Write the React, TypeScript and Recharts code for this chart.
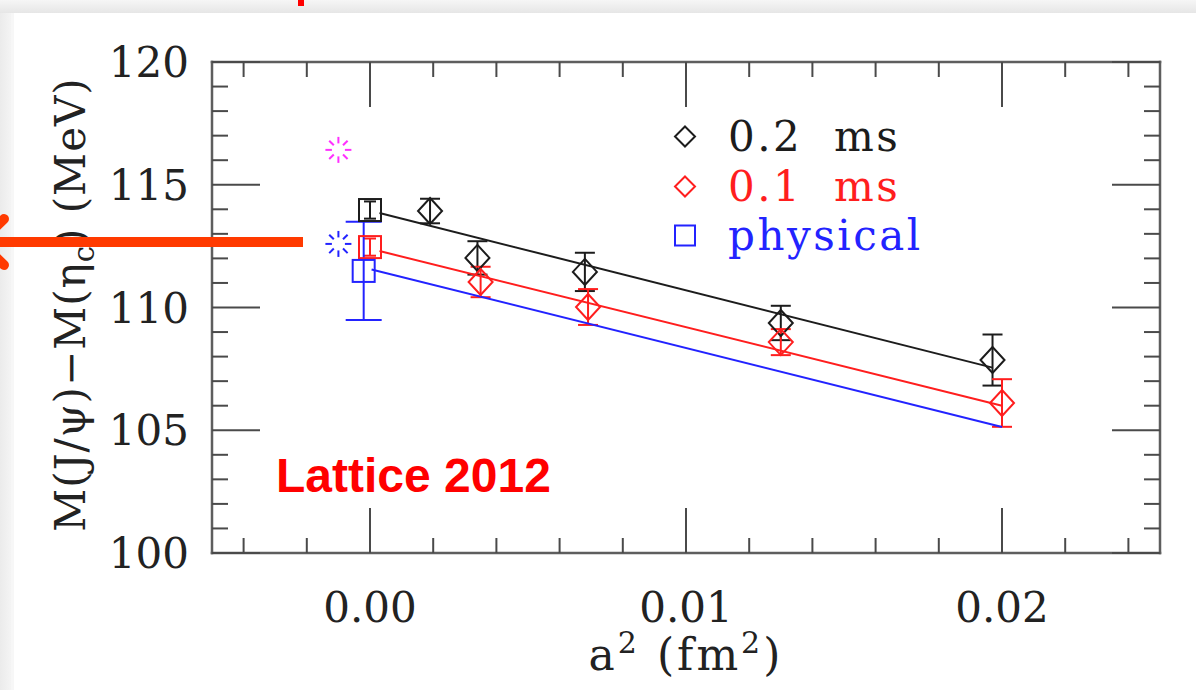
import React from 'react';
import { ComposedChart, Scatter, XAxis, YAxis, ErrorBar, Legend } from 'recharts';

// ---- axis ticks ----
const X_TICKS = [-0.004, -0.002, 0, 0.002, 0.004, 0.006, 0.008, 0.01, 0.012, 0.014, 0.016, 0.018, 0.02, 0.022, 0.024];
const X_MAJOR = [0, 0.01, 0.02];
const Y_TICKS = [100, 101, 102, 103, 104, 105, 106, 107, 108, 109, 110, 111, 112, 113, 114, 115, 116, 117, 118, 119, 120];
const Y_MAJOR = [100, 105, 110, 115, 120];

// ---- 0.2 ms ensembles ----
const MS02_A2 = [0.0019, 0.0034, 0.0068, 0.0130, 0.0197];
const MS02_M = [113.93, 112.02, 111.45, 109.37, 107.86];
const MS02_ERR = [0.5, 0.68, 0.78, 0.7, 1.04];

// ---- 0.1 ms ensembles ----
const MS01_A2 = [0.0035, 0.0069, 0.0130, 0.0200];
const MS01_M = [111.04, 110.02, 108.59, 106.11];
const MS01_ERR = [0.62, 0.73, 0.53, 0.97];

// ---- continuum values at a^2 = 0 (0.2 ms, 0.1 ms, physical) ----
const EXTRAP_A2 = [0, 0, -0.0002];
const EXTRAP_M = [113.97, 112.46, 111.49];
const EXTRAP_ERR = [0.35, 0.35, 2.0];

// ---- fit lines (end points) ----
const FIT02_A2 = [0.0003, 0.0197];
const FIT02_M = [113.85, 107.55];
const FIT01_A2 = [0.0003, 0.02];
const FIT01_M = [112.3, 106.0];
const FITPHYS_A2 = [0.00005, 0.02];
const FITPHYS_M = [111.55, 105.13];

// ---- other determinations (burst markers) ----
const OTHER_A2 = [-0.001, -0.001];
const OTHER_M = [116.42, 112.59];

// ---- legend ----
const LEGEND_LABELS = ['0.2  ms', '0.1  ms', 'physical'];

const SERIF = '"DejaVu Serif", serif';
const SANS = '"Liberation Sans", Arial, sans-serif';
const AXIS_COLOR = '#5e5e5e';
const TICK_COLOR = '#4a4a4a';
const BLACK = '#1c1c1c';
const RED = '#ff1e1e';
const BLUE = '#2323ff';
const MAGENTA = '#ff30ff';
const LEGEND_COLORS = [BLACK, RED, BLUE];
const ARROW = '#ff3a00';

type Pt = { x: number; y: number; err: number };
const zip = (xs: number[], ys: number[], es?: number[]): Pt[] =>
  xs.map((x, i) => ({ x, y: ys[i], err: es ? es[i] : 0 }));

const ms02 = zip(MS02_A2, MS02_M, MS02_ERR);
const ms01 = zip(MS01_A2, MS01_M, MS01_ERR);
const extrap = zip(EXTRAP_A2, EXTRAP_M, EXTRAP_ERR);
const fit02 = zip(FIT02_A2, FIT02_M);
const fit01 = zip(FIT01_A2, FIT01_M);
const fitPhys = zip(FITPHYS_A2, FITPHYS_M);
const others = zip(OTHER_A2, OTHER_M);

const isMajor = (v: number, majors: number[]) => majors.some((m) => Math.abs(m - v) < 1e-9);

// ---- marker shapes ----
const diamond = (color: string, hw = 12, hh = 13) => (p: any) => (
  <path
    d={`M${p.cx},${p.cy - hh}L${p.cx + hw},${p.cy}L${p.cx},${p.cy + hh}L${p.cx - hw},${p.cy}Z`}
    fill="none"
    stroke={color}
    strokeWidth={2}
  />
);
const square = (color: string, h = 11) => (p: any) => (
  <rect x={p.cx - h} y={p.cy - h} width={2 * h} height={2 * h} fill="none" stroke={color} strokeWidth={2} />
);
const burst = (color: string) => (p: any) => {
  const segs = [];
  for (let k = 0; k < 8; k++) {
    const a = (k * Math.PI) / 4;
    segs.push(
      <line
        key={k}
        x1={p.cx + 6.5 * Math.cos(a)}
        y1={p.cy + 6.5 * Math.sin(a)}
        x2={p.cx + 13 * Math.cos(a)}
        y2={p.cy + 13 * Math.sin(a)}
        stroke={color}
        strokeWidth={2}
      />
    );
  }
  return <g>{segs}</g>;
};
const noShape = () => <g />;

// ---- inward ticks on all four sides ----
const BottomTick = (p: any) => {
  const v = p.payload.value;
  const major = isMajor(v, X_MAJOR);
  return (
    <g>
      <line x1={p.x} y1={p.y} x2={p.x} y2={p.y - (major ? 45 : 15)} stroke={TICK_COLOR} strokeWidth={2} />
      {major && (
        <text x={p.x} y={p.y + 69} textAnchor="middle" fontFamily={SERIF} fontSize={42} fill="#222">
          {v.toFixed(2)}
        </text>
      )}
    </g>
  );
};
const TopTick = (p: any) => {
  const major = isMajor(p.payload.value, X_MAJOR);
  return <line x1={p.x} y1={p.y} x2={p.x} y2={p.y + (major ? 45 : 15)} stroke={TICK_COLOR} strokeWidth={2} />;
};
const LeftTick = (p: any) => {
  const v = p.payload.value;
  const major = isMajor(v, Y_MAJOR);
  return (
    <g>
      <line x1={p.x} y1={p.y} x2={p.x + (major ? 48 : 16)} y2={p.y} stroke={TICK_COLOR} strokeWidth={2} />
      {major && (
        <text x={p.x - 23} y={p.y + 15} textAnchor="end" fontFamily={SERIF} fontSize={42} fill="#222">
          {v}
        </text>
      )}
    </g>
  );
};
const RightTick = (p: any) => {
  const major = isMajor(p.payload.value, Y_MAJOR);
  return <line x1={p.x} y1={p.y} x2={p.x - (major ? 48 : 16)} y2={p.y} stroke={TICK_COLOR} strokeWidth={2} />;
};

// ---- axis titles ----
const YTitle = (props: any) => {
  const vb = props.viewBox;
  const cx = 85;
  const cy = vb.y + vb.height / 2 - 3;
  return (
    <text
      x={cx}
      y={cy}
      transform={`rotate(-90, ${cx}, ${cy})`}
      textAnchor="middle"
      fontFamily={SERIF}
      fontSize={42}
      letterSpacing={1}
      fill="#222"
    >
      M(J/ψ)−M(η
      <tspan dy={9} fontSize={29}>c</tspan>
      <tspan dy={-9}>)  (MeV)</tspan>
    </text>
  );
};
const XTitle = (props: any) => {
  const vb = props.viewBox;
  const cx = vb.x + vb.width / 2;
  const cy = vb.y + 117;
  return (
    <text x={cx} y={cy} textAnchor="middle" fontFamily={SERIF} fontSize={44} fill="#222" letterSpacing={3}>
      a
      <tspan dy={-17} fontSize={30}>2</tspan>
      <tspan dy={17}>  (fm</tspan>
      <tspan dy={-17} fontSize={30}>2</tspan>
      <tspan dy={17}>)</tspan>
    </text>
  );
};

// ---- legend ----
const LegendBox = () => (
  <div style={{ fontFamily: SERIF, fontSize: 42, letterSpacing: 2.5 }}>
    {LEGEND_LABELS.map((label, i) => (
      <div
        key={label}
        style={{ display: 'flex', alignItems: 'center', height: 49.5, color: LEGEND_COLORS[i], whiteSpace: 'pre' }}
      >
        <svg width={64} height={49.5} style={{ flex: 'none' }}>
          {i < 2 ? (
            <path d="M21,14.5L31,24.5L21,34.5L11,24.5Z" fill="none" stroke={LEGEND_COLORS[i]} strokeWidth={2} />
          ) : (
            <rect x={11} y={14.5} width={20} height={20} fill="none" stroke={LEGEND_COLORS[i]} strokeWidth={2} />
          )}
        </svg>
        <span>{label}</span>
      </div>
    ))}
  </div>
);

const W = 1196;
const H = 690;

export default function App() {
  const axisLine = { stroke: AXIS_COLOR, strokeWidth: 2.5, strokeLinecap: 'square' as const };
  return (
    <div style={{ position: 'fixed', left: 0, top: 0, width: W, height: H, background: '#fff', overflow: 'hidden' }}>
      <ComposedChart width={W} height={H} margin={{ top: 61, right: 35, bottom: 0, left: 0 }}>
        <XAxis
          xAxisId="b"
          dataKey="x"
          type="number"
          domain={[-0.005, 0.025]}
          allowDataOverflow
          ticks={X_TICKS}
          interval={0}
          tickSize={0}
          tickMargin={0}
          tick={BottomTick}
          axisLine={axisLine}
          height={137}
          label={XTitle}
        />
        <XAxis
          xAxisId="t"
          orientation="top"
          dataKey="x"
          type="number"
          domain={[-0.005, 0.025]}
          allowDataOverflow
          ticks={X_TICKS}
          interval={0}
          tickSize={0}
          tickMargin={0}
          tick={TopTick}
          axisLine={axisLine}
          height={1}
        />
        <YAxis
          yAxisId="l"
          dataKey="y"
          type="number"
          domain={[100, 120]}
          allowDataOverflow
          ticks={Y_TICKS}
          interval={0}
          tickSize={0}
          tickMargin={0}
          tick={LeftTick}
          axisLine={axisLine}
          width={212}
          label={YTitle}
        />
        <YAxis
          yAxisId="r"
          orientation="right"
          dataKey="y"
          type="number"
          domain={[100, 120]}
          allowDataOverflow
          ticks={Y_TICKS}
          interval={0}
          tickSize={0}
          tickMargin={0}
          tick={RightTick}
          axisLine={axisLine}
          width={1}
        />

        {/* fit lines */}
        <Scatter xAxisId="b" yAxisId="l" data={fit02} line={{ stroke: BLACK, strokeWidth: 2 }} shape={noShape} legendType="none" isAnimationActive={false} />
        <Scatter xAxisId="b" yAxisId="l" data={fit01} line={{ stroke: RED, strokeWidth: 2 }} shape={noShape} legendType="none" isAnimationActive={false} />
        <Scatter xAxisId="b" yAxisId="l" data={fitPhys} line={{ stroke: BLUE, strokeWidth: 2 }} shape={noShape} legendType="none" isAnimationActive={false} />

        {/* other determinations */}
        <Scatter xAxisId="b" yAxisId="l" data={[others[0]]} shape={burst(MAGENTA)} legendType="none" isAnimationActive={false} />
        <Scatter xAxisId="b" yAxisId="l" data={[others[1]]} shape={burst(BLUE)} legendType="none" isAnimationActive={false} />

        {/* lattice data */}
        <Scatter xAxisId="b" yAxisId="l" data={ms02} shape={diamond(BLACK)} isAnimationActive={false}>
          <ErrorBar dataKey="err" direction="y" width={10} stroke={BLACK} strokeWidth={2} />
        </Scatter>
        <Scatter xAxisId="b" yAxisId="l" data={ms01} shape={diamond(RED)} isAnimationActive={false}>
          <ErrorBar dataKey="err" direction="y" width={10} stroke={RED} strokeWidth={2} />
        </Scatter>

        {/* continuum extrapolations */}
        <Scatter xAxisId="b" yAxisId="l" data={[extrap[0]]} shape={square(BLACK)} isAnimationActive={false}>
          <ErrorBar dataKey="err" direction="y" width={6} stroke={BLACK} strokeWidth={2} />
        </Scatter>
        <Scatter xAxisId="b" yAxisId="l" data={[extrap[1]]} shape={square(RED)} isAnimationActive={false}>
          <ErrorBar dataKey="err" direction="y" width={6} stroke={RED} strokeWidth={2} />
        </Scatter>
        <Scatter xAxisId="b" yAxisId="l" data={[extrap[2]]} shape={square(BLUE)} isAnimationActive={false}>
          <ErrorBar dataKey="err" direction="y" width={18} stroke={BLUE} strokeWidth={2} />
        </Scatter>

        <Legend
          layout="horizontal"
          align="center"
          verticalAlign="middle"
          content={LegendBox}
          wrapperStyle={{ left: 664, top: 112, width: 330, height: 150 }}
        />
      </ComposedChart>

      {/* slide annotations */}
      <svg width={W} height={H} style={{ position: 'absolute', left: 0, top: 0, pointerEvents: 'none' }}>
        <defs>
          <linearGradient id="topBand" x1="0" y1="0" x2="0" y2="1">
            <stop offset="0" stopColor="#f6f6f6" />
            <stop offset="1" stopColor="#e6e6e6" />
          </linearGradient>
          <linearGradient id="leftBand" x1="0" y1="0" x2="1" y2="0">
            <stop offset="0" stopColor="#ebebeb" />
            <stop offset="1" stopColor="#f4f4f4" />
          </linearGradient>
        </defs>
        <rect x={0} y={0} width={11} height={H} fill="url(#leftBand)" />
        <rect x={11} y={13} width={3} height={H - 13} fill="#f7f7f7" />
        <rect x={0} y={0} width={W} height={13} fill="url(#topBand)" />
        <rect x={298} y={0} width={6} height={6} fill="#ff0000" />
        <line x1={0} y1={242} x2={303} y2={242} stroke={ARROW} strokeWidth={10} />
        <line x1={-20} y1={242} x2={4} y2={219} stroke={ARROW} strokeWidth={10} strokeLinecap="round" />
        <line x1={-20} y1={242} x2={4} y2={265} stroke={ARROW} strokeWidth={10} strokeLinecap="round" />
        <text x={276} y={492} fontFamily={SANS} fontWeight="bold" fontSize={48} fill="#ff0000">
          Lattice 2012
        </text>
      </svg>
    </div>
  );
}
